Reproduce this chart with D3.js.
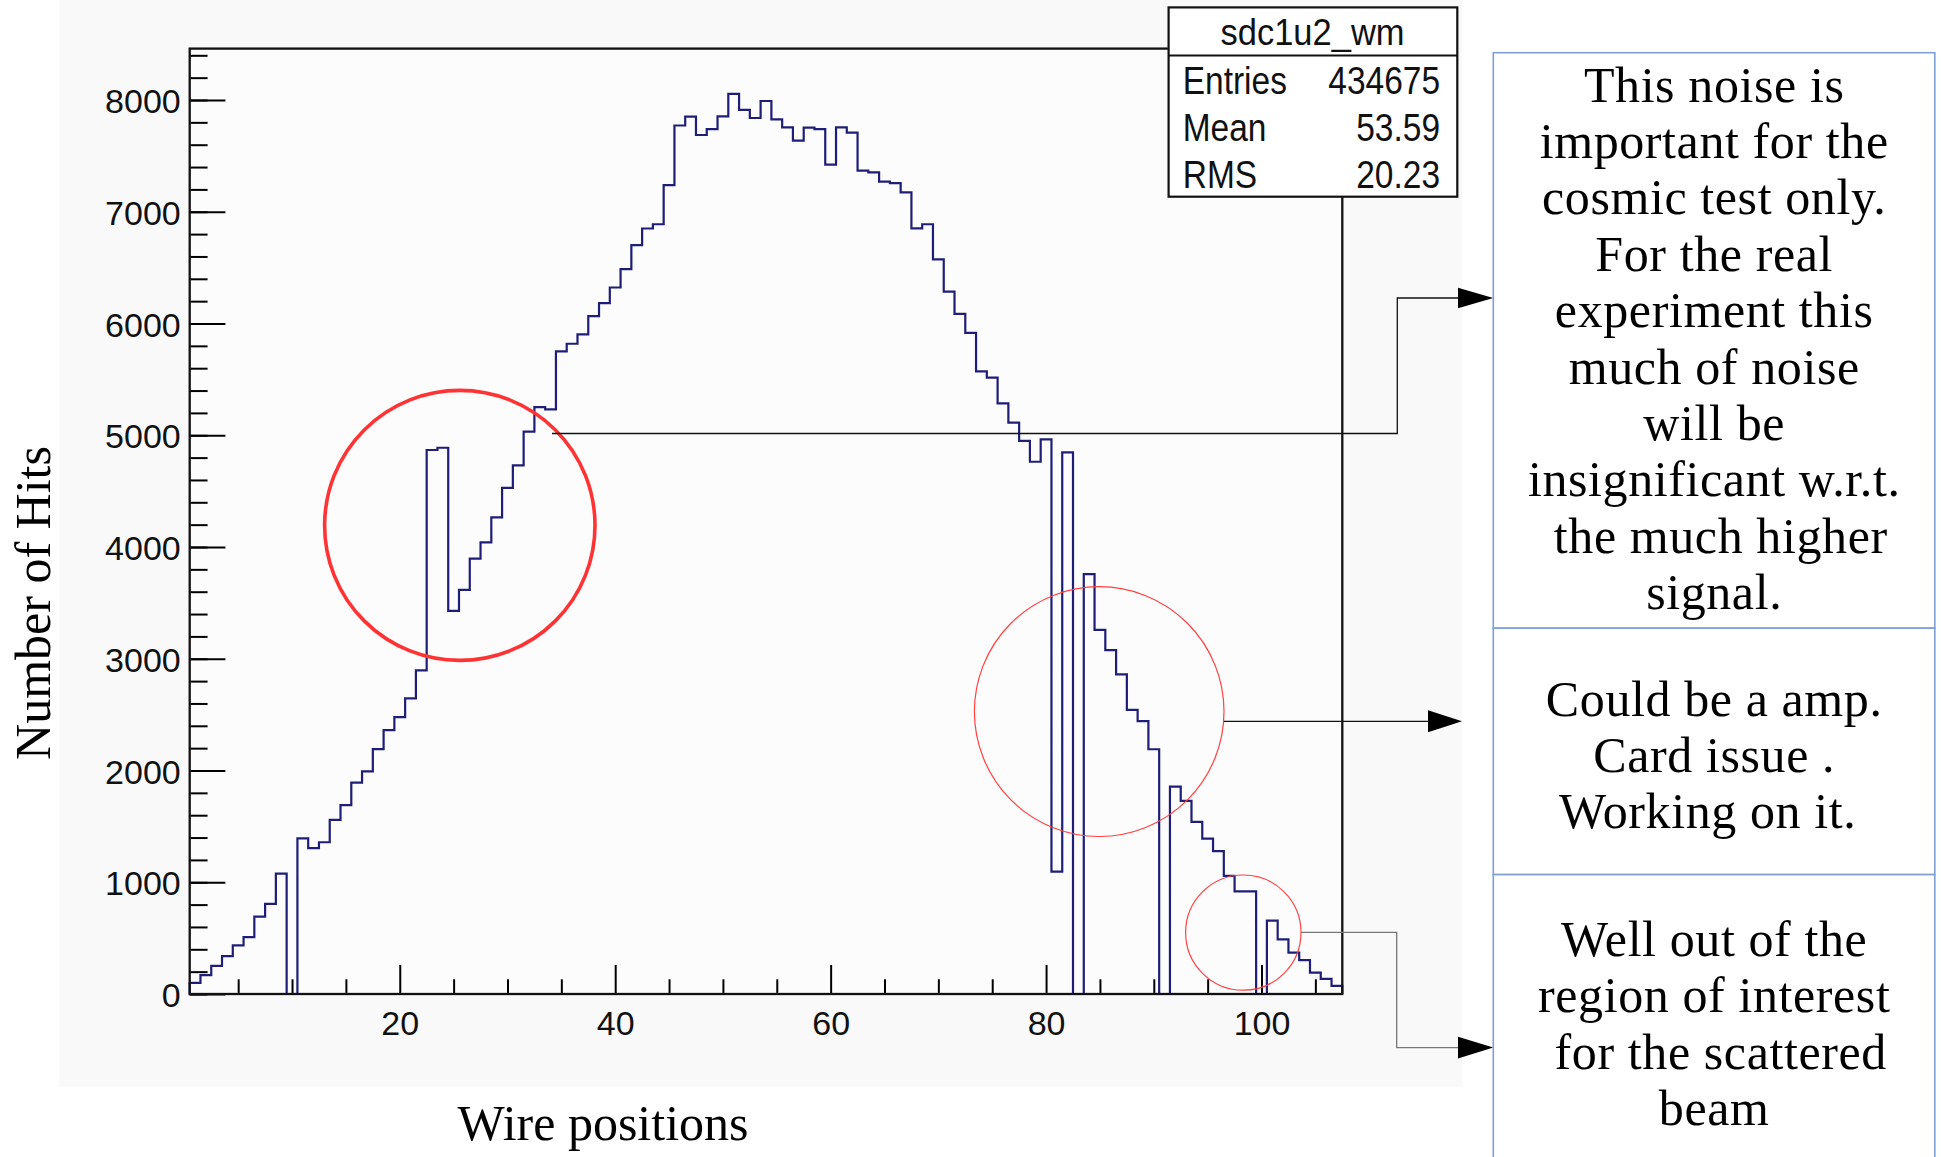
<!DOCTYPE html>
<html><head><meta charset="utf-8">
<script src="https://cdn.jsdelivr.net/npm/d3@7"></script>
<style>
html,body{margin:0;padding:0;background:#fff;}
svg{display:block;}
.note{white-space:pre;}
</style></head>
<body>
<svg id="c" width="1941" height="1157"></svg>
<script>
// ---------------- data ----------------
const wires = d3.range(1, 108);            // wire positions 1..107 (bin centres)
const hits = [
  100, 169, 252, 339, 436, 509, 693, 806, 1077, 0,
  1392, 1306, 1358, 1559, 1690, 1891, 1992, 2192, 2362, 2477,
  2646, 2896, 4868, 4888, 3429, 3616, 3896, 4042, 4265, 4529,
  4730, 5032, 5251, 5231, 5751, 5819, 5902, 6066, 6182, 6322,
  6486, 6702, 6850, 6888, 7238, 7772, 7852, 7687, 7740, 7854,
  8054, 7911, 7839, 7991, 7827, 7755, 7636, 7752, 7740, 7421,
  7755, 7708, 7368, 7353, 7269, 7257, 7174, 6852, 6888, 6574,
  6285, 6086, 5916, 5571, 5516, 5286, 5113, 4950, 4763, 4964,
  1095, 4847, 0, 3757, 3258, 3078, 2861, 2542, 2441, 2190,
  0, 1856, 1729, 1541, 1391, 1279, 1057, 918, 918, 0,
  656, 488, 371, 303, 192, 135, 72
];
const yMajorTicks = [0, 1000, 2000, 3000, 4000, 5000, 6000, 7000, 8000];
const yMinorTicks = d3.range(0, 8401, 200);
const xMajorTicks = [20, 40, 60, 80, 100];
const xMinorTicks = [5, 10, 15, 25, 30, 35, 45, 50, 55, 65, 70, 75, 85, 90, 95, 105];
const statsTitle = "sdc1u2_wm";
const statsLabels = ["Entries", "Mean", "RMS"];
const statsValues = ["434675", "53.59", "20.23"];
const xTitle = "Wire positions";
const yTitle = "Number of Hits";
const note1 = ["This noise is", "important for the", "cosmic test only.", "For the real",
  "experiment this", "much of noise", "will be", "insignificant w.r.t.", " the much higher", "signal."];
const note2 = ["Could be a amp.", "Card issue .", "Working on it. "];
const note3 = ["Well out of the", "region of interest", " for the scattered", "beam"];

// ---------------- drawing ----------------
const svg = d3.select('#c');
svg.append('rect').attr('width', 1941).attr('height', 1157).attr('fill', '#fff');
// ROOT canvas background
svg.append('rect').attr('x', 59.4).attr('y', 0).attr('width', 1402.6).attr('height', 1086.6).attr('fill', '#f9f9f9');

const L = 189.7, R = 1342.3, T = 48.6, B = 994;
const x = d3.scaleLinear().domain([0.5, 107.5]).range([L, R]);
const y = d3.scaleLinear().domain([0, 8460]).range([B, T]);

svg.append('rect').attr('x', L).attr('y', T).attr('width', R - L).attr('height', B - T).attr('fill', '#fcfcfc');

// histogram step outline
const pts = [[0.5, 0]];
wires.forEach((w, i) => { pts.push([w - 0.5, hits[i]]); pts.push([w + 0.5, hits[i]]); });
pts.push([107.5, 0]);
svg.append('path')
  .attr('d', d3.line().x(d => x(d[0])).y(d => y(d[1]))(pts))
  .attr('fill', 'none').attr('stroke', '#1e1e78').attr('stroke-width', 2.2)
  .attr('stroke-linejoin', 'miter');

// axes
function styleAxis(g) {
  g.selectAll('.tick line').attr('stroke', '#000').attr('stroke-width', 2);
  g.selectAll('.domain').remove();
  g.selectAll('text').attr('font-family', '"Liberation Sans", Arial, sans-serif')
    .attr('font-size', 34).attr('fill', '#111');
}
const gyMin = svg.append('g').attr('transform', `translate(${L},0)`)
  .call(d3.axisLeft(y).tickValues(yMinorTicks).tickSize(-17.9).tickSizeOuter(0).tickFormat(''));
styleAxis(gyMin);
const gy = svg.append('g').attr('transform', `translate(${L},0)`)
  .call(d3.axisLeft(y).tickValues(yMajorTicks).tickSize(-35.7).tickPadding(9).tickSizeOuter(0).tickFormat(d3.format('d')));
styleAxis(gy);
gy.selectAll('text').attr('dy', '0.37em');

const gxMin = svg.append('g').attr('transform', `translate(0,${B})`)
  .call(d3.axisBottom(x).tickValues(xMinorTicks).tickSize(-14.7).tickSizeOuter(0).tickFormat(''));
styleAxis(gxMin);
const gx = svg.append('g').attr('transform', `translate(0,${B})`)
  .call(d3.axisBottom(x).tickValues(xMajorTicks).tickSize(-29).tickPadding(16.6).tickSizeOuter(0).tickFormat(d3.format('d')));
styleAxis(gx);

// frame
svg.append('rect').attr('x', L).attr('y', T).attr('width', R - L).attr('height', B - T)
  .attr('fill', 'none').attr('stroke', '#111').attr('stroke-width', 2.3);

// axis titles
svg.append('text').text(xTitle).attr('x', 603).attr('y', 1140)
  .attr('text-anchor', 'middle').attr('font-family', '"Liberation Serif", "Times New Roman", serif')
  .attr('font-size', 50).attr('fill', '#000');
svg.append('text').text(yTitle).attr('transform', 'translate(50,603) rotate(-90)')
  .attr('text-anchor', 'middle').attr('font-family', '"Liberation Serif", "Times New Roman", serif')
  .attr('font-size', 50).attr('fill', '#000');

// stats box
const sb = svg.append('g');
sb.append('rect').attr('x', 1168.6).attr('y', 7.4).attr('width', 288.7).attr('height', 189.3)
  .attr('fill', '#fff').attr('stroke', '#111').attr('stroke-width', 2.2);
sb.append('line').attr('x1', 1168.6).attr('x2', 1457.3).attr('y1', 55.5).attr('y2', 55.5)
  .attr('stroke', '#111').attr('stroke-width', 2.2);
sb.append('text').text(statsTitle).attr('transform', 'translate(1312.5,45.2) scale(1,1.07)')
  .attr('text-anchor', 'middle').attr('font-family', '"Liberation Sans", Arial, sans-serif')
  .attr('font-size', 34.5).attr('fill', '#111');
statsLabels.forEach((lab, i) => {
  const by = 93.8 + i * 47.25;
  sb.append('text').text(lab).attr('transform', `translate(1182.7,${by}) scale(1,1.17)`)
    .attr('font-family', '"Liberation Sans", Arial, sans-serif').attr('font-size', 33.5).attr('fill', '#111');
  sb.append('text').text(statsValues[i]).attr('transform', `translate(1440,${by}) scale(1,1.17)`)
    .attr('text-anchor', 'end')
    .attr('font-family', '"Liberation Sans", Arial, sans-serif').attr('font-size', 33.5).attr('fill', '#111');
});

// highlight ellipses
svg.append('ellipse').attr('cx', 459.8).attr('cy', 525.4).attr('rx', 135.2).attr('ry', 135)
  .attr('fill', 'none').attr('stroke', '#ff3333').attr('stroke-width', 3.6);
svg.append('ellipse').attr('cx', 1099.2).attr('cy', 711.6).attr('rx', 124.8).attr('ry', 124.9)
  .attr('fill', 'none').attr('stroke', '#ff4040').attr('stroke-width', 1.2);
svg.append('ellipse').attr('cx', 1243.3).attr('cy', 932.6).attr('rx', 57.7).attr('ry', 57.6)
  .attr('fill', 'none').attr('stroke', '#ff4040').attr('stroke-width', 1.2);

// connectors + arrowheads
const conn = d3.line();
svg.append('path').attr('d', conn([[552, 433.5], [1397.3, 433.5], [1397.3, 298], [1460, 298]]))
  .attr('fill', 'none').attr('stroke', '#111').attr('stroke-width', 1.3);
svg.append('path').attr('d', conn([[1458, 287.7], [1493.3, 298], [1458, 308.3]]) + 'Z').attr('fill', '#000');

svg.append('path').attr('d', conn([[1224, 721.3], [1430, 721.3]]))
  .attr('fill', 'none').attr('stroke', '#111').attr('stroke-width', 1.3);
svg.append('path').attr('d', conn([[1428, 710.3], [1462, 721.3], [1428, 732.3]]) + 'Z').attr('fill', '#000');

svg.append('path').attr('d', conn([[1301, 932.4], [1396.7, 932.4], [1396.7, 1047.6], [1460, 1047.6]]))
  .attr('fill', 'none').attr('stroke', '#777').attr('stroke-width', 1.3);
svg.append('path').attr('d', conn([[1458, 1036.8], [1493.3, 1047.6], [1458, 1058.4]]) + 'Z').attr('fill', '#000');

// annotation boxes
const boxStroke = '#7f9fd8';
[[52.7, 628.2], [628.2, 874.6], [874.6, 1170]].forEach(([t, b]) => {
  svg.append('rect').attr('x', 1493.3).attr('y', t).attr('width', 441.5).attr('height', b - t)
    .attr('fill', '#fff').attr('stroke', boxStroke).attr('stroke-width', 1.6);
});
function writeNote(lines, firstBaseline, step) {
  lines.forEach((s, i) => {
    svg.append('text').attr('class', 'note').text(s)
      .attr('x', 1714.2).attr('y', firstBaseline + i * step)
      .attr('text-anchor', 'middle')
      .attr('font-family', '"Liberation Serif", "Times New Roman", serif')
      .attr('font-size', 50).attr('letter-spacing', 0.6).attr('fill', '#000');
  });
}
writeNote(note1, 101.6, 56.4);
writeNote(note2, 715.5, 56);
writeNote(note3, 956, 56.3);
</script>
</body></html>
